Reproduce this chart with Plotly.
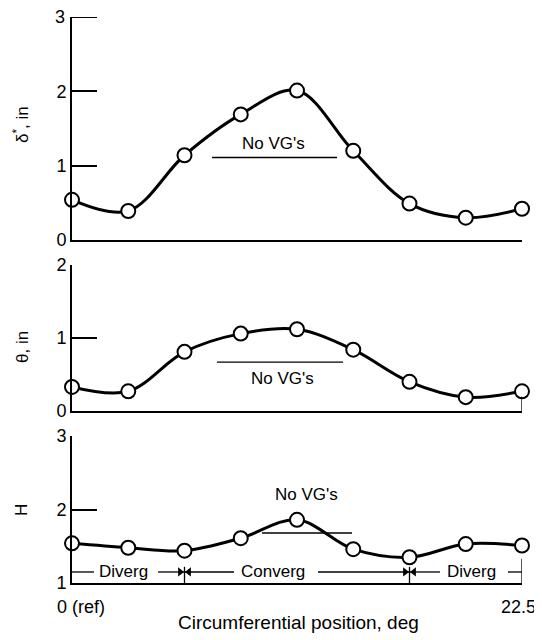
import plotly.graph_objects as go

# circumferential position of each survey station, deg
position = [0, 2.8125, 5.625, 8.4375, 11.25, 14.0625, 16.875, 19.6875, 22.5]

# boundary layer values
delta_star = [0.54, 0.39, 1.14, 1.69, 2.01, 1.20, 0.49, 0.30, 0.42]
theta = [0.33, 0.27, 0.81, 1.06, 1.12, 0.84, 0.40, 0.19, 0.27]
shape_factor = [1.54, 1.48, 1.44, 1.61, 1.86, 1.46, 1.35, 1.53, 1.51]

# y ticks of each panel
delta_ticks = [0, 1, 2, 3]
theta_ticks = [0, 1, 2]
h_ticks = [1, 2, 3]

# no-VG reference levels (short horizontal lines)
no_vg_delta = 1.11
no_vg_theta = 0.67
no_vg_h = 1.68

x_tick_labels = ["0 (ref)", "22.5"]
region_labels = ["Diverg", "Converg", "Diverg"]
region_label_x = [2.55, 10.05, 19.95]
region_edges = [5.625, 16.875]

# page body adds an 8 px margin, so the figure is drawn 8 px smaller
OFF = 8
FW, FH = 542 - OFF, 640 - OFF
FONT = "Liberation Sans, Arial, sans-serif"


def px(x):
    return (x - OFF) / FW


def py(y):
    return 1 - (y - OFF) / FH


x_dom = [px(72), px(522)]

fig = go.Figure()

panels = [
    (delta_star, "x", "y"),
    (theta, "x2", "y2"),
    (shape_factor, "x3", "y3"),
]
for vals, xa, ya in panels:
    fig.add_trace(go.Scatter(
        x=position, y=vals, xaxis=xa, yaxis=ya,
        mode="lines+markers",
        line=dict(color="black", width=3, shape="spline", smoothing=1.0),
        marker=dict(size=14, color="white", line=dict(color="black", width=2)),
        cliponaxis=False, showlegend=False,
    ))

axis_common = dict(
    showline=True, linecolor="black", linewidth=2,
    showgrid=False, zeroline=False, automargin=False,
)
yaxis_common = dict(
    axis_common, ticks="inside", ticklen=25, tickwidth=2, tickcolor="black",
    tickfont=dict(family=FONT, size=18, color="black"),
)
xaxis_common = dict(axis_common, range=[0, 22.5], ticks="", showticklabels=False,
                    domain=x_dom)

fig.update_layout(
    width=FW, height=FH,
    margin=dict(l=0, r=0, t=0, b=0),
    paper_bgcolor="white", plot_bgcolor="white",
    font=dict(family=FONT, size=17, color="black"),
    xaxis=dict(xaxis_common, anchor="y"),
    xaxis2=dict(xaxis_common, anchor="y2"),
    xaxis3=dict(xaxis_common, anchor="y3"),
    # the top tick of this panel sits on the page edge, drawn below by hand
    yaxis=dict(yaxis_common, anchor="x", range=[0, 3],
               tickvals=delta_ticks[:-1], domain=[py(240), py(17)]),
    yaxis2=dict(yaxis_common, anchor="x2", range=[0, 2], tickvals=theta_ticks,
                domain=[py(411), py(265)]),
    yaxis3=dict(yaxis_common, anchor="x3", range=[1, 3], tickvals=h_ticks,
                domain=[py(583), py(436)]),
)

top = delta_ticks[-1]
fig.add_shape(type="line", xref="x", yref="y", x0=0, x1=1.25, y0=top, y1=top,
              line=dict(color="black", width=2))
fig.add_annotation(text=str(top), xref="x", yref="y", x=0, y=top,
                   xanchor="right", yanchor="middle", xshift=-5,
                   showarrow=False, font=dict(size=18))

line_style = dict(color="black", width=1.3)

# "No VG's" reference lines and labels
fig.add_shape(type="line", xref="x", yref="y", x0=7.0, x1=13.25,
              y0=no_vg_delta, y1=no_vg_delta, line=line_style)
fig.add_shape(type="line", xref="x2", yref="y2", x0=7.25, x1=13.55,
              y0=no_vg_theta, y1=no_vg_theta, line=line_style)
fig.add_shape(type="line", xref="x3", yref="y3", x0=9.5, x1=14.0,
              y0=no_vg_h, y1=no_vg_h, line=line_style)
fig.add_annotation(text="No VG's", xref="x", yref="y", x=10.05, y=no_vg_delta,
                   xanchor="center", yanchor="bottom", yshift=2, showarrow=False)
fig.add_annotation(text="No VG's", xref="x2", yref="y2", x=10.5, y=no_vg_theta,
                   xanchor="center", yanchor="top", yshift=-5, showarrow=False)
fig.add_annotation(text="No VG's", xref="x3", yref="y3", x=11.7, y=2.21,
                   xanchor="center", yanchor="middle", showarrow=False)

# region dimension lines on the H panel
ly = 1.15
for lab, lx in zip(region_labels, region_label_x):
    fig.add_annotation(text=lab, xref="x3", yref="y3", x=lx, y=ly,
                       xanchor="center", yanchor="middle", showarrow=False)
for ex in region_edges:
    fig.add_shape(type="line", xref="x3", yref="y3", x0=ex, x1=ex,
                  y0=1.0, y1=1.22, line=line_style)
fig.add_shape(type="line", xref="x3", yref="y3", x0=22.5, x1=22.5,
              y0=1.0, y1=1.33, line=line_style)
fig.add_shape(type="line", xref="x2", yref="y2", x0=22.5, x1=22.5,
              y0=0, y1=0.2, line=line_style)

segments = [(0, 1.1), (4.3, region_edges[0]), (8.1, region_edges[0]),
            (12.3, region_edges[1]), (18.4, region_edges[1]), (21.8, 22.5)]
for a, b in segments:
    fig.add_shape(type="line", xref="x3", yref="y3", x0=a, x1=b,
                  y0=ly, y1=ly, line=line_style)

# arrowheads pointing at each region boundary
head_x = []
head_sym = []
for ex in region_edges:
    head_x += [ex - 0.22, ex + 0.22]
    head_sym += ["triangle-right", "triangle-left"]
fig.add_trace(go.Scatter(
    x=head_x, y=[ly] * len(head_x), xaxis="x3", yaxis="y3", mode="markers",
    marker=dict(symbol=head_sym, size=8, color="black", line=dict(width=0)),
    showlegend=False, hoverinfo="skip",
))

# x tick labels for the bottom panel
fig.add_annotation(text=x_tick_labels[0], xref="x3", yref="y3", x=0, y=1,
                   xanchor="left", yanchor="top", xshift=-17, yshift=-12,
                   showarrow=False, font=dict(size=18))
fig.add_annotation(text=x_tick_labels[1], xref="x3", yref="y3", x=22.5, y=1,
                   xanchor="right", yanchor="top", xshift=16, yshift=-12,
                   showarrow=False, font=dict(size=18))

# axis titles
fig.add_annotation(text="Circumferential position, deg", xref="paper",
                   yref="paper", x=px(298), y=py(622), xanchor="center",
                   yanchor="middle", showarrow=False, font=dict(size=19))
fig.add_annotation(text="δ<sup>*</sup>, in", xref="paper", yref="paper",
                   x=px(21), y=py(125), xanchor="center", yanchor="middle",
                   textangle=-90, showarrow=False, font=dict(size=17))
fig.add_annotation(text="θ, in", xref="paper", yref="paper",
                   x=px(22), y=py(347), xanchor="center", yanchor="middle",
                   textangle=-90, showarrow=False, font=dict(size=17))
fig.add_annotation(text="H", xref="paper", yref="paper",
                   x=px(21), y=py(510), xanchor="center", yanchor="middle",
                   textangle=-90, showarrow=False, font=dict(size=17))

fig.write_html("out.html")
